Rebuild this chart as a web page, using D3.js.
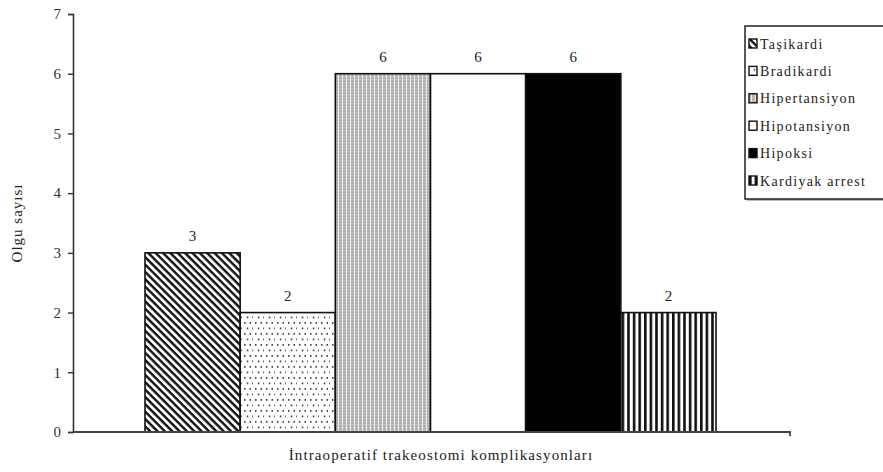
<!DOCTYPE html>
<html>
<head>
<meta charset="utf-8">
<script src="https://cdn.jsdelivr.net/npm/d3@7"></script>
<style>
  html, body { margin: 0; padding: 0; background: #fff; }
  svg { display: block; }
</style>
</head>
<body>
<svg id="chart" width="883" height="472"></svg>
<script>
// Intraoperative tracheostomy complications: case counts
const categories = ["Taşikardi", "Bradikardi", "Hipertansiyon", "Hipotansiyon", "Hipoksi", "Kardiyak arrest"];
const counts = [3, 2, 6, 6, 6, 2];
const yTicks = [0, 1, 2, 3, 4, 5, 6, 7];
const fills = ["url(#pDiag)", "url(#pDots)", "url(#pGrid)", "#ffffff", "#000000", "url(#pVert)"];
const yTitle = "Olgu sayısı";
const xTitle = "İntraoperatif  trakeostomi komplikasyonları";

const FONT = "'Liberation Serif', 'Times New Roman', serif";
const svg = d3.select("#chart");
const defs = svg.append("defs");

// diagonal "\" stripes
const pd = defs.append("pattern").attr("id", "pDiag").attr("patternUnits", "userSpaceOnUse")
  .attr("width", 5.2).attr("height", 5.2).attr("patternTransform", "rotate(45)");
pd.append("rect").attr("width", 5.2).attr("height", 5.2).attr("fill", "#fff");
pd.append("rect").attr("width", 5.2).attr("height", 2.4).attr("fill", "#111");

// sparse dots
const pdot = defs.append("pattern").attr("id", "pDots").attr("patternUnits", "userSpaceOnUse")
  .attr("width", 11).attr("height", 11);
pdot.append("rect").attr("width", 11).attr("height", 11).attr("fill", "#fff");
[[2, 3], [7.5, 3], [4.8, 8.5], [10.2, 8.5]].forEach(([x, y]) =>
  pdot.append("rect").attr("x", x).attr("y", y).attr("width", 1.5).attr("height", 1.8).attr("fill", "#444"));

// fine grey grid
const pg = defs.append("pattern").attr("id", "pGrid").attr("patternUnits", "userSpaceOnUse")
  .attr("width", 4).attr("height", 3);
pg.append("rect").attr("width", 4).attr("height", 3).attr("fill", "#a8a8a8");
pg.append("rect").attr("x", 2).attr("width", 1).attr("height", 3).attr("fill", "#f2f2f2");
pg.append("rect").attr("y", 1.5).attr("width", 4).attr("height", 0.8).attr("fill", "#dcdcdc");

// vertical stripes
const pv = defs.append("pattern").attr("id", "pVert").attr("patternUnits", "userSpaceOnUse")
  .attr("width", 5.6).attr("height", 10);
pv.append("rect").attr("width", 5.6).attr("height", 10).attr("fill", "#fff");
pv.append("rect").attr("x", 0).attr("width", 2.6).attr("height", 10).attr("fill", "#111");

const y = d3.scaleLinear().domain([0, 7]).range([432, 14]);
const x = d3.scaleBand().domain(categories).range([145, 716]).paddingInner(0).paddingOuter(0);

// bars
svg.append("g").selectAll("rect").data(categories).join("rect")
  .attr("x", d => x(d))
  .attr("y", (d, i) => y(counts[i]))
  .attr("width", x.bandwidth())
  .attr("height", (d, i) => y(0) - y(counts[i]))
  .attr("fill", (d, i) => fills[i])
  .attr("stroke", "#111").attr("stroke-width", 1.6);

// value labels
svg.append("g").selectAll("text").data(categories).join("text")
  .attr("x", d => x(d) + x.bandwidth() / 2)
  .attr("y", (d, i) => y(counts[i]) - 12)
  .attr("text-anchor", "middle")
  .attr("font-family", FONT).attr("font-size", 15).attr("fill", "#222")
  .text((d, i) => counts[i]);

// y axis
const yAxis = svg.append("g").attr("transform", "translate(73,0)")
  .call(d3.axisLeft(y).tickValues(yTicks).tickSize(5).tickPadding(7).tickFormat(d3.format("d")));
yAxis.attr("font-family", FONT);
yAxis.select(".domain").attr("stroke", "#333").attr("stroke-width", 1.6);
yAxis.selectAll(".tick line").attr("stroke", "#333").attr("stroke-width", 1.4);
yAxis.selectAll(".tick text").attr("font-size", 15)
  .attr("font-family", FONT).attr("fill", "#333");

// x axis baseline with end tick
svg.append("path")
  .attr("d", d3.line()([[73, y(0)], [790, y(0)], [790, y(0) + 4]]))
  .attr("fill", "none").attr("stroke", "#444").attr("stroke-width", 1.8);

// axis titles
svg.append("text")
  .attr("transform", `translate(22,${(y(0) + y(7)) / 2}) rotate(-90)`)
  .attr("text-anchor", "middle")
  .attr("font-family", FONT).attr("font-size", 15).attr("letter-spacing", 1).attr("fill", "#222")
  .text(yTitle);
svg.append("text")
  .attr("x", 441).attr("y", 460)
  .attr("text-anchor", "middle")
  .attr("font-family", FONT).attr("font-size", 15).attr("letter-spacing", 1.1).attr("fill", "#222")
  .text(xTitle);

// legend
const lg = svg.append("g");
lg.append("rect").attr("x", 747).attr("y", 28).attr("width", 150).attr("height", 173)
  .attr("fill", "#bbb");
lg.append("rect").attr("x", 745).attr("y", 26).attr("width", 150).attr("height", 173)
  .attr("fill", "#fff").attr("stroke", "#222").attr("stroke-width", 1.5);
const items = lg.selectAll("g.item").data(categories).join("g").attr("class", "item")
  .attr("transform", (d, i) => `translate(749,${44 + i * 27.4})`);
items.append("rect").attr("x", 0).attr("y", -5).attr("width", 8).attr("height", 9)
  .attr("fill", (d, i) => fills[i]).attr("stroke", "#111").attr("stroke-width", 1.4);
items.append("text").attr("x", 11).attr("y", 4.5)
  .attr("font-family", FONT).attr("font-size", 14).attr("letter-spacing", 1.3).attr("fill", "#222")
  .text(d => d);
</script>
</body>
</html>
